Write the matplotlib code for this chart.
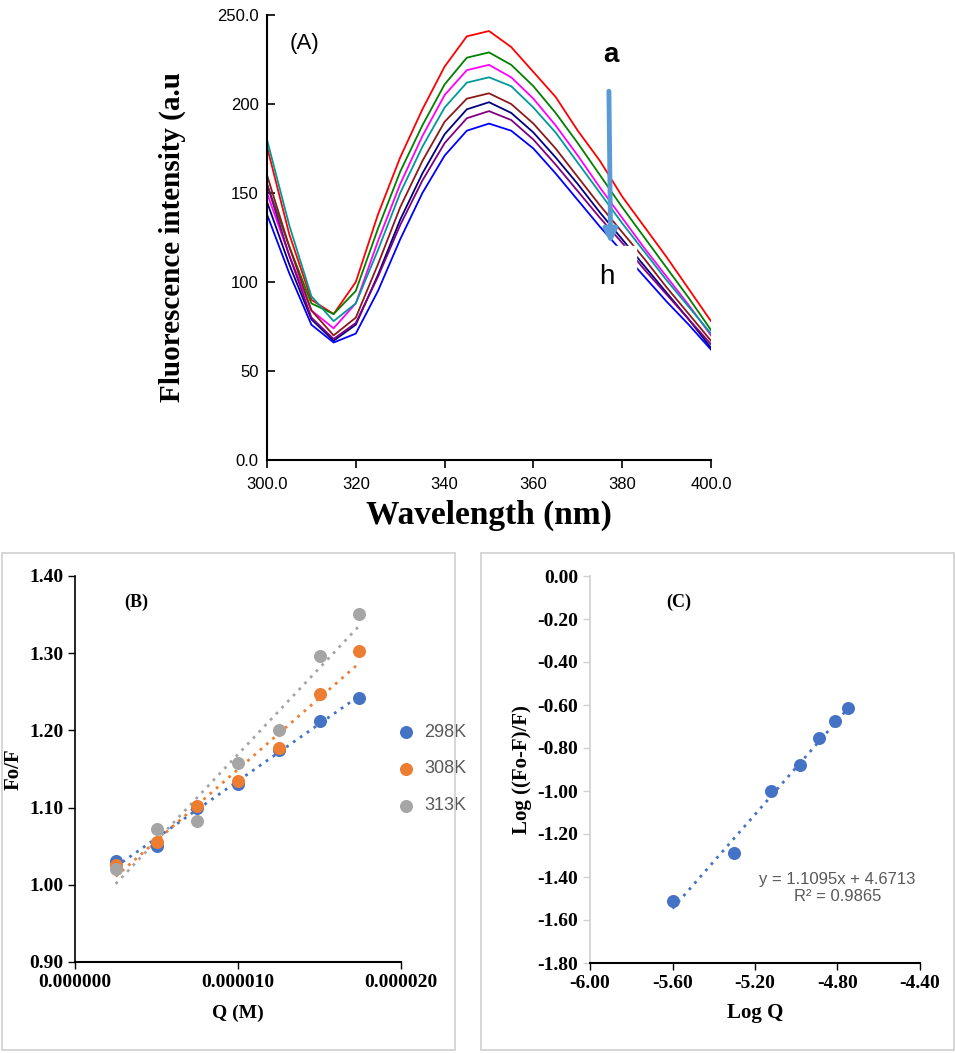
import numpy as np
import matplotlib
matplotlib.use("Agg")
import matplotlib.pyplot as plt
from matplotlib.patches import Rectangle

# ---------- Panel A data ----------
wavelength = [300,305,310,315,320,325,330,335,340,345,350,355,360,365,370,375,380,385,390,395,400]
spec_red     = [176,127,90,82,100,138,170,197,221,238,241,232,218,204,185,168,148,131,114,96,78]
spec_green   = [155,120,88,82,95,130,162,188,211,226,229,222,210,195,178,160,142,125,108,91,73]
spec_magenta = [150,115,84,74,88,123,155,182,205,219,222,215,203,188,171,153,136,119,103,87,70]
spec_teal    = [180,132,92,78,88,118,150,176,198,212,215,210,198,184,167,150,133,117,101,86,71]
spec_brown   = [160,120,84,70,80,110,142,168,190,203,206,200,189,175,159,143,128,113,97,82,67]
spec_navy    = [145,110,79,67,76,104,135,161,183,197,201,195,184,170,155,139,124,109,94,79,63]
spec_purple  = [155,115,80,68,77,103,132,157,178,192,196,191,180,166,151,136,122,107,93,79,65]
spec_blue    = [138,105,76,66,71,95,124,150,171,185,189,185,175,161,146,131,117,103,89,76,62]
spectra = [spec_red, spec_green, spec_magenta, spec_teal, spec_brown, spec_navy, spec_purple, spec_blue]
spec_colors = ["#ff0000", "#008000", "#ff00ff", "#009999", "#8b1a1a", "#000080", "#800080", "#0000ff"]
a_yticks = [0, 50, 100, 150, 200, 250]
a_yticklabels = ["0.0", "50", "100", "150", "200", "250.0"]
a_xticks = [300, 320, 340, 360, 380, 400]
a_xticklabels = ["300.0", "320", "340", "360", "380", "400.0"]

# ---------- Panel B data ----------
Q = [2.5e-6, 5.0e-6, 7.5e-6, 1.0e-5, 1.25e-5, 1.5e-5, 1.74e-5]
fo_298 = [1.031, 1.050, 1.100, 1.130, 1.175, 1.212, 1.242]
fo_308 = [1.026, 1.055, 1.102, 1.135, 1.177, 1.247, 1.303]
fo_313 = [1.020, 1.072, 1.083, 1.158, 1.200, 1.297, 1.351]
b_labels = ["298K", "308K", "313K"]
b_colors = ["#4472c4", "#ed7d31", "#a5a5a5"]

# ---------- Panel C data ----------
logQ = [-5.60, -5.30, -5.12, -4.98, -4.89, -4.81, -4.75]
logF = [-1.51, -1.29, -1.00, -0.88, -0.755, -0.675, -0.615]

W, H = 956, 1053
fig = plt.figure(figsize=(W/100, H/100), dpi=100)
serif = ["Liberation Serif", "DejaVu Serif"]
sans = ["Liberation Sans", "DejaVu Sans"]

def rect(l, t, r, b):
    return [l/W, 1-b/H, (r-l)/W, (b-t)/H]

# Panel A
axA = fig.add_axes(rect(267, 15, 711, 460))
for s, c in zip(spectra, spec_colors):
    axA.plot(wavelength, s, color=c, lw=1.3)
axA.set_xlim(300, 400); axA.set_ylim(0, 250)
axA.set_yticks(a_yticks); axA.set_yticklabels(a_yticklabels, family=sans, fontsize=12)
axA.set_xticks(a_xticks); axA.set_xticklabels(a_xticklabels, family=sans, fontsize=12)
for sp in ["top", "right"]:
    axA.spines[sp].set_visible(False)
axA.spines["left"].set_linewidth(1.5); axA.spines["bottom"].set_linewidth(1.5)
axA.tick_params(direction="in", length=6, width=1.2, pad=6)
axA.tick_params(axis="x", direction="out")
axA.set_ylabel("Fluorescence intensity (a.u", family=serif, fontweight="bold", fontsize=21, labelpad=22)
axA.set_xlabel("Wavelength (nm)", family=serif, fontweight="bold", fontsize=24, labelpad=6)
axA.text(0.05, 0.96, "(A)", transform=axA.transAxes, family=sans, fontsize=16, va="top")
axA.add_patch(Rectangle((0.745, 0.36), 0.085, 0.12, transform=axA.transAxes, color="white", zorder=3))
axA.annotate("", xy=(0.774, 0.48), xytext=(0.770, 0.835), xycoords="axes fraction",
             arrowprops=dict(arrowstyle="-|>", color="#5b9bd5", lw=3.5, mutation_scale=20), zorder=4)
axA.text(0.775, 0.895, "a", transform=axA.transAxes, family=sans, fontsize=20, fontweight="bold", ha="center", zorder=5)
axA.text(0.766, 0.395, "h", transform=axA.transAxes, family=sans, fontsize=20, ha="center", zorder=5)

# Boxes for B and C
for l, t, r, b in [(2, 553, 455, 1050), (481, 553, 954, 1050)]:
    fig.patches.append(Rectangle((l/W, 1-b/H), (r-l)/W, (b-t)/H, transform=fig.transFigure,
                                 fill=False, edgecolor="#d0d0d0", lw=1.2))

def style(ax):
    for sp in ["top", "right"]:
        ax.spines[sp].set_visible(False)
    ax.spines["left"].set_linewidth(1.2); ax.spines["bottom"].set_linewidth(1.5)
    ax.tick_params(length=5, width=1, labelsize=14)
    for lab in ax.get_xticklabels() + ax.get_yticklabels():
        lab.set_family(serif); lab.set_fontweight("bold")

# Panel B
axB = fig.add_axes(rect(75, 576, 401, 962))
Qa = np.array(Q)
for ys, c, lab in zip([fo_298, fo_308, fo_313], b_colors, b_labels):
    axB.scatter(Q, ys, color=c, s=70, zorder=3, label=lab)
    p = np.polyfit(Qa, ys, 1)
    axB.plot(Qa, np.polyval(p, Qa), ls=(0, (1, 2)), color=c, lw=2)
axB.set_xlim(0, 2e-5); axB.set_ylim(0.9, 1.4)
axB.set_xticks([0, 1e-5, 2e-5]); axB.set_xticklabels(["0.000000", "0.000010", "0.000020"])
axB.set_yticks(np.arange(0.9, 1.41, 0.1)); axB.set_yticklabels(["0.90", "1.00", "1.10", "1.20", "1.30", "1.40"])
style(axB)
axB.set_xlabel("Q (M)", family=serif, fontweight="bold", fontsize=14, labelpad=10)
axB.set_ylabel("Fo/F", family=serif, fontweight="bold", fontsize=15, labelpad=4)
axB.text(0.15, 0.92, "(B)", transform=axB.transAxes, family=serif, fontweight="bold", fontsize=13)
leg = axB.legend(loc="center left", bbox_to_anchor=(0.91, 0.5), frameon=False, handletextpad=0.0,
                 labelspacing=1.1, prop=dict(family=sans, size=13))
for t in leg.get_texts():
    t.set_color("#595959")

# Panel C
axC = fig.add_axes(rect(590, 576, 920, 963))
axC.scatter(logQ, logF, color="#4472c4", s=70, zorder=3)
pc = np.polyfit(logQ, logF, 1)
xl = np.array([min(logQ), max(logQ)])
axC.plot(xl, np.polyval(pc, xl), ls=(0, (1, 2)), color="#4472c4", lw=2)
axC.set_xlim(-6.0, -4.4); axC.set_ylim(-1.8, 0.0)
axC.set_xticks(np.arange(-6.0, -4.39, 0.4)); axC.set_xticklabels(["-6.00", "-5.60", "-5.20", "-4.80", "-4.40"])
axC.set_yticks(np.arange(-1.8, 0.01, 0.2))
axC.set_yticklabels(["-1.80", "-1.60", "-1.40", "-1.20", "-1.00", "-0.80", "-0.60", "-0.40", "-0.20", "0.00"])
style(axC)
axC.tick_params(axis="y", length=5, color="#d0d0d0")
axC.spines["left"].set_color("#d0d0d0")
axC.set_xlabel("Log Q", family=serif, fontweight="bold", fontsize=15, labelpad=8)
axC.set_ylabel("Log ((Fo-F)/F)", family=serif, fontweight="bold", fontsize=15, labelpad=4)
axC.text(0.23, 0.92, "(C)", transform=axC.transAxes, family=serif, fontweight="bold", fontsize=13)
axC.text(0.75, 0.16, "y = 1.1095x + 4.6713\nR² = 0.9865", transform=axC.transAxes, family=sans,
         fontsize=12, color="#595959", ha="center", linespacing=1.2)

fig.savefig("out.png", dpi=100)
